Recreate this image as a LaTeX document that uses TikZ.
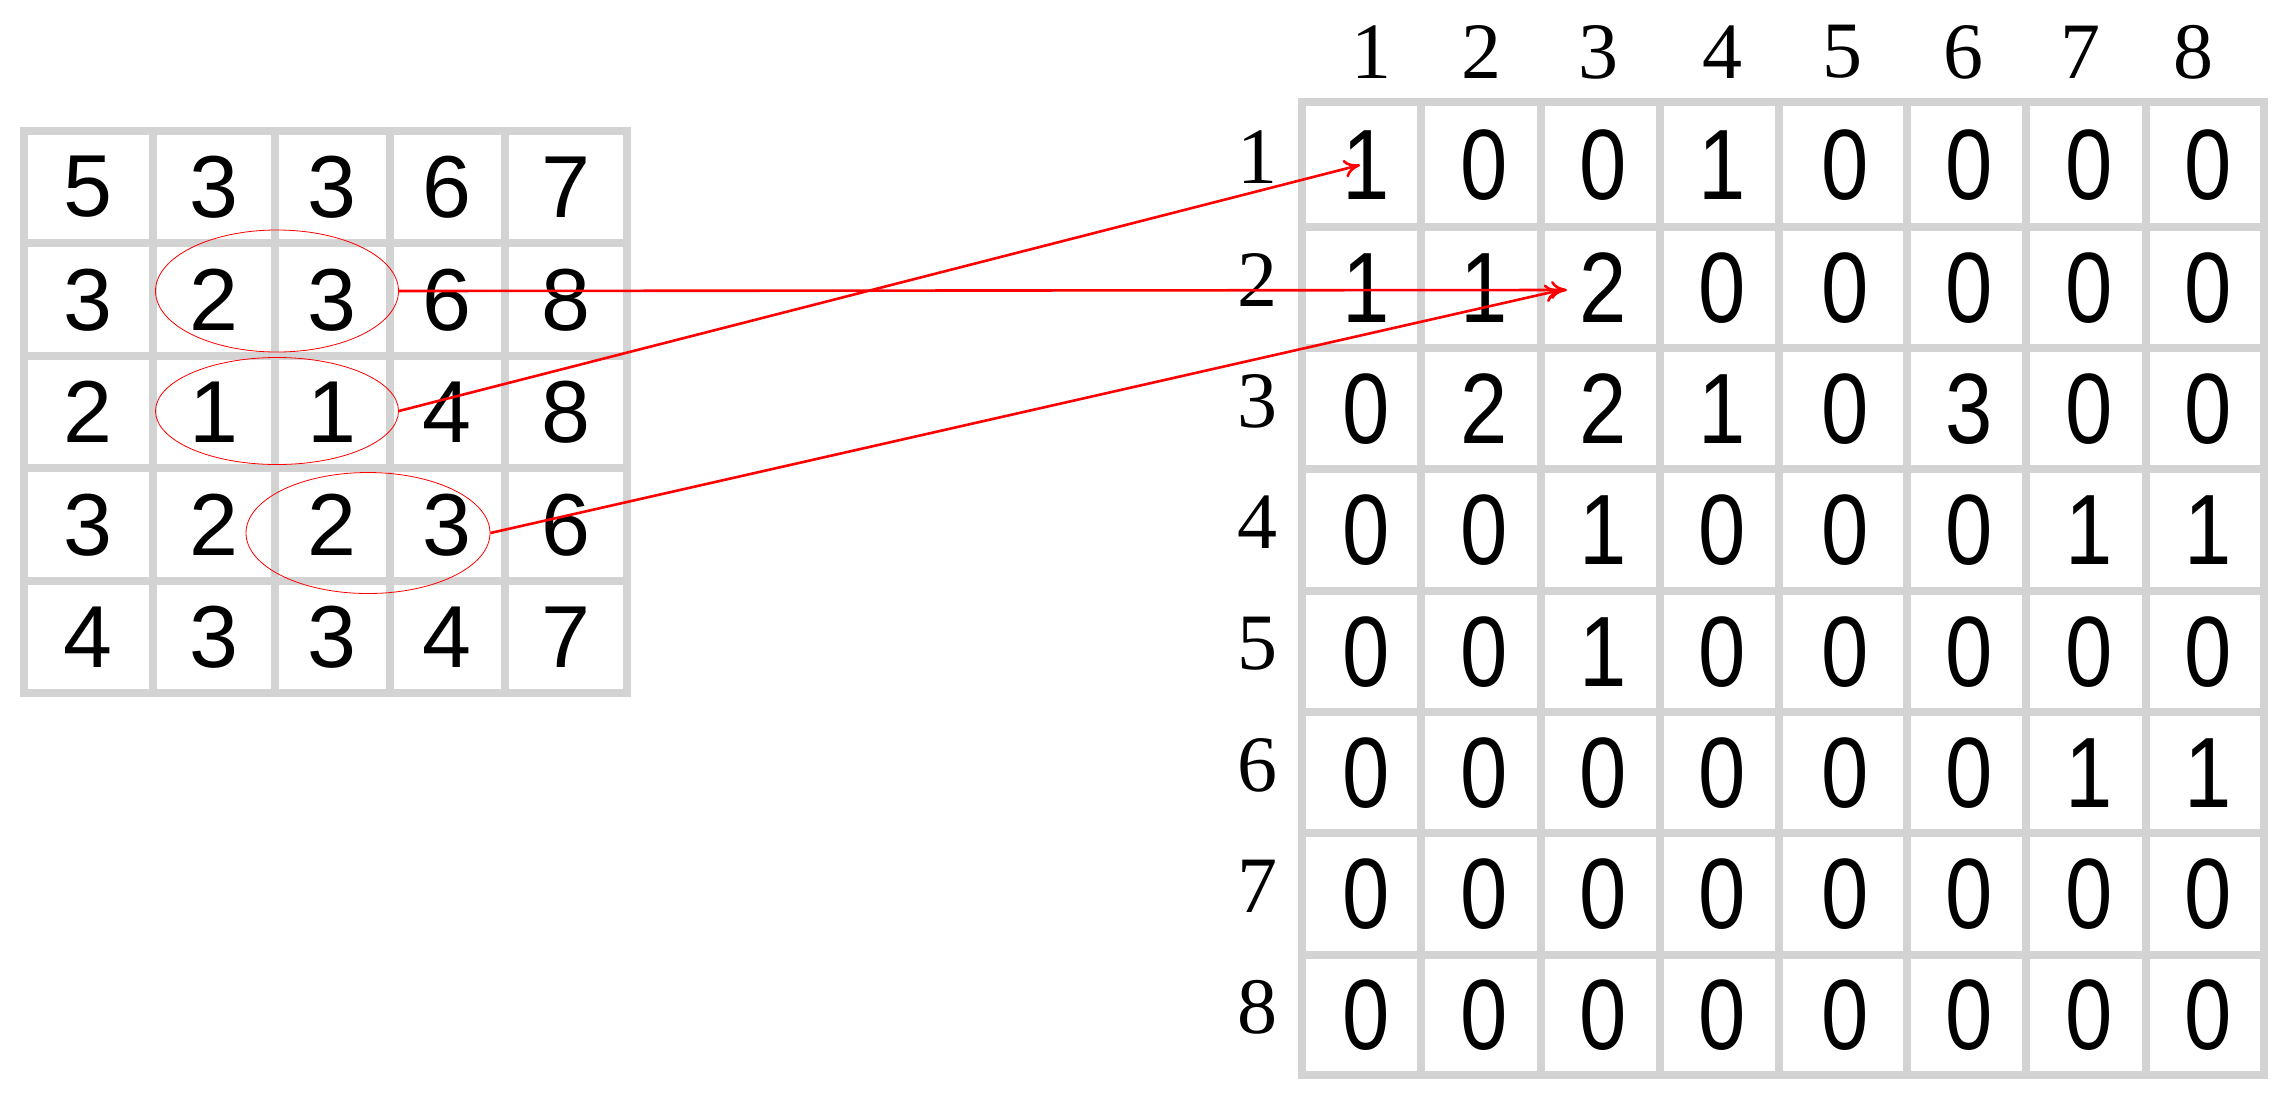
\documentclass[tikz,border=0pt]{standalone}
\usepackage{fontspec}
\setmainfont{Liberation Serif}
\newfontfamily\gridsans{Liberation Sans}
\newfontfamily\gridnarrow{Liberation Sans}[FakeStretch=0.85]
\usetikzlibrary{shapes.geometric,arrows.meta}
\definecolor{gridgray}{RGB}{211,211,211}
\begin{document}
\begin{tikzpicture}[x=0.5pt,y=-0.5pt,
  gridline/.style={draw=gridgray,line width=3.8pt,line cap=rect},
  lcell/.style={font=\gridsans\fontsize{44}{44}\selectfont,inner sep=0pt},
  rcell/.style={font=\gridnarrow\fontsize{50}{50}\selectfont,inner sep=0pt},
  lab/.style={font=\fontsize{40}{40}\selectfont,inner sep=0pt},
  oval/.style={ellipse,draw=red,line width=0.4pt,inner sep=0pt},
  arr/.style={draw=red,line width=1.3pt,-{To[length=8pt,width=9pt]}}]
\useasboundingbox (0,0) rectangle (2292,1099);
% left grid
\foreach \xx in {24,153,275,390,505,627}
  \draw[gridline] (\xx,131) -- (\xx,693);
\foreach \yy in {131,243,356,468,581,693}
  \draw[gridline] (24,\yy) -- (627,\yy);
\foreach \row/\cy [count=\r] in {{5,3,3,6,7}/187,{3,2,3,6,8}/300,{2,1,1,4,8}/412,{3,2,2,3,6}/525,{4,3,3,4,7}/637}{
  \foreach \v [count=\c] in \row {
    \pgfmathsetmacro\cx{\c==1?88:(\c==2?214:(\c==3?332:(\c==4?447:566)))}
    \node[lcell] (L-\r-\c) at (\cx,\cy) {\v};}}
% right grid
\foreach \xx in {1302,1421,1541,1660,1779,1907,2026,2146,2264}
  \draw[gridline] (\xx,102) -- (\xx,1075);
\foreach \yy in {102,227,348,469,591,712,833,955,1075}
  \draw[gridline] (1302,\yy) -- (2264,\yy);
\foreach \row/\cy [count=\r] in {{1,0,0,1,0,0,0,0}/165,{1,1,2,0,0,0,0,0}/288,{0,2,2,1,0,3,0,0}/409,{0,0,1,0,0,0,1,1}/530,{0,0,1,0,0,0,0,0}/652,{0,0,0,0,0,0,1,1}/773,{0,0,0,0,0,0,0,0}/894,{0,0,0,0,0,0,0,0}/1015}{
  \foreach \v [count=\c] in \row {
    \pgfmathsetmacro\cx{\c==1?1366:(\c==2?1484:(\c==3?1603:(\c==4?1722:(\c==5?1845:(\c==6?1969:(\c==7?2089:2208))))))}
    \node[rcell] (R-\r-\c) at (\cx,\cy) {\v};}}
% headers
\foreach \hx [count=\k] in {1371,1481,1598,1722,1842,1963,2080,2193}
  \node[lab] (H-\k) at (\hx,52) {\k};
\foreach \yy [count=\k] in {157,280,401,522,644,765,886,1007}
  \node[lab] (V-\k) at (1257,\yy) {\k};
% ellipses
\node[oval,minimum width=121.5pt,minimum height=61pt] (e1) at (277,291) {};
\node[oval,minimum width=121.5pt,minimum height=53.5pt] (e2) at (277,411) {};
\node[oval,minimum width=122pt,minimum height=60.5pt] (e3) at (368,533) {};
\coordinate (t1) at (1567,290);
\coordinate (t2) at (1360,165);
\coordinate (t3) at (1561,290);
\draw[arr] (e1.east) -- (t1);
\draw[arr] (e2.east) -- (t2);
\draw[arr] (e3.east) -- (t3);
\end{tikzpicture}
\end{document}
